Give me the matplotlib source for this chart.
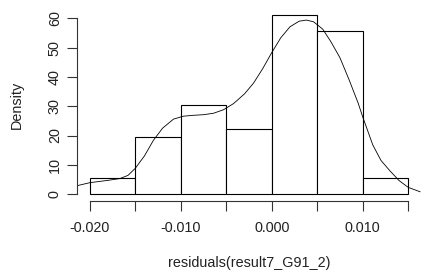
import numpy as np
import matplotlib.pyplot as plt

plt.rcParams['font.family'] = ['Liberation Sans', 'DejaVu Sans']

# histogram of residuals (density scale)
breaks = [-0.020, -0.015, -0.010, -0.005, 0.000, 0.005, 0.010, 0.015]
density = [5.56, 19.44, 30.56, 22.22, 61.11, 55.56, 5.56]

# kernel density curve
kde_x = [-0.0215, -0.0200, -0.0180, -0.0167, -0.0158, -0.0150, -0.0140, -0.0130,
         -0.0120, -0.0108, -0.0097, -0.0086, -0.0075, -0.0064, -0.0053, -0.0042,
         -0.0030, -0.0020, -0.0010, 0.0000, 0.0010, 0.0020, 0.0030, 0.0038,
         0.0046, 0.0056, 0.0065, 0.0075, 0.0085, 0.0095, 0.0100, 0.0111,
         0.0120, 0.0130, 0.0140, 0.0150, 0.0163]
kde_y = [2.8, 3.9, 4.7, 5.3, 6.4, 8.8, 13.0, 18.4,
         22.5, 25.6, 26.6, 26.9, 27.1, 27.6, 28.8, 30.9,
         34.2, 37.9, 42.8, 48.3, 53.4, 57.1, 59.0, 59.4,
         58.8, 56.3, 52.0, 46.5, 39.0, 31.0, 26.3, 16.8,
         11.5, 7.9, 4.6, 2.3, 0.8]

xticks = [-0.020, -0.010, 0.000, 0.010]
yticks = [0, 10, 20, 30, 40, 50, 60]

fig = plt.figure(figsize=(4.21, 2.72), dpi=100)
ax = fig.add_axes([0.183, 0.26, 0.817, 0.711])

lw = 0.8
ax.bar(breaks[:-1], density, width=np.diff(breaks), align='edge',
       facecolor='white', edgecolor='black', linewidth=lw)
ax.plot(kde_x, kde_y, color='black', linewidth=0.6)

span_x = breaks[-1] - breaks[0]
ax.set_xlim(breaks[0] - 0.04 * span_x, breaks[-1] + 0.04 * span_x)
ymax = max(density)
ax.set_ylim(-0.04 * ymax, ymax * 1.04)

for s in ['top', 'right']:
    ax.spines[s].set_visible(False)
ax.spines['left'].set_bounds(0, 60)
ax.spines['bottom'].set_bounds(breaks[0], breaks[-1])
for s in ['left', 'bottom']:
    ax.spines[s].set_linewidth(lw)
    ax.spines[s].set_color('#333333')

ax.set_xticks(breaks, minor=True)
ax.set_xticks(xticks)
ax.set_xticklabels(['%.3f' % v for v in xticks])
ax.set_yticks(yticks)
ax.set_yticklabels([str(v) for v in yticks], rotation=90, va='center')
ax.tick_params(axis='both', which='both', length=7, width=lw, color='#333333',
               labelsize=10.4, labelcolor='#222222')
ax.tick_params(axis='x', which='major', pad=7)
ax.tick_params(axis='y', pad=4)

ax.set_xlabel('residuals(result7_G91_2)', fontsize=10.4, color='#222222', labelpad=15.5)
ax.set_ylabel('Density', fontsize=10.4, color='#222222', labelpad=17.5)

fig.savefig('out.png', dpi=100)
